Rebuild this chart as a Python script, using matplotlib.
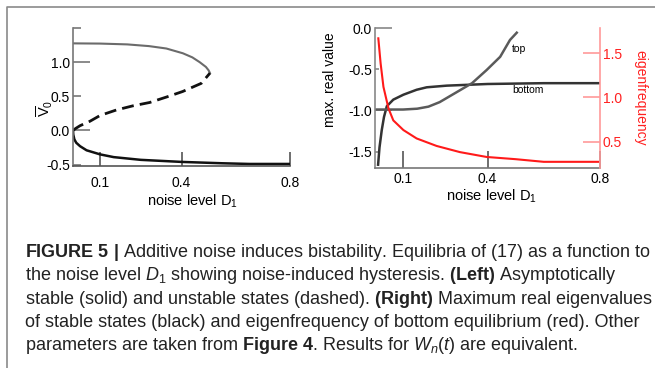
import matplotlib
matplotlib.use('Agg')
import matplotlib.pyplot as plt
from matplotlib.lines import Line2D

plt.rcParams['font.family'] = ['Liberation Sans', 'DejaVu Sans']
plt.rcParams['mathtext.fontset'] = 'custom'
plt.rcParams['mathtext.rm'] = 'Liberation Sans'
plt.rcParams['mathtext.it'] = 'Liberation Sans:italic'
plt.rcParams['mathtext.bf'] = 'Liberation Sans:bold'

# Left panel: equilibria V0 vs noise level D1
upper_D = [0.0, 0.1, 0.2, 0.28, 0.344, 0.405, 0.44, 0.467, 0.49, 0.5, 0.505]
upper_V = [1.275, 1.272, 1.26, 1.235, 1.20, 1.13, 1.07, 1.0, 0.93, 0.88, 0.84]

mid_D = [0.0, 0.01, 0.026, 0.0625, 0.1, 0.16, 0.22, 0.283, 0.345, 0.404, 0.473, 0.505]
mid_V = [0.0, 0.03, 0.07, 0.135, 0.22, 0.30, 0.36, 0.41, 0.49, 0.57, 0.69, 0.84]

low_D = [0.0, 0.001, 0.005, 0.012, 0.026, 0.05, 0.1, 0.15, 0.25, 0.4, 0.55, 0.65, 0.8]
low_V = [0.0, -0.06, -0.13, -0.18, -0.23, -0.29, -0.35, -0.39, -0.43, -0.46, -0.48, -0.49, -0.49]

# Right panel: max real eigenvalue (black) and eigenfrequency (red)
bot_D = [0.011, 0.016, 0.024, 0.032, 0.042, 0.065, 0.101, 0.148, 0.184, 0.255, 0.4, 0.6, 0.8]
bot_v = [-1.66, -1.45, -1.24, -1.08, -0.95, -0.87, -0.81, -0.75, -0.72, -0.70, -0.68, -0.67, -0.67]

top_D = [0.0, 0.05, 0.1, 0.15, 0.19, 0.23, 0.27, 0.30, 0.345, 0.397, 0.445, 0.48, 0.504]
top_v = [-0.99, -0.99, -0.99, -0.98, -0.955, -0.90, -0.82, -0.76, -0.67, -0.51, -0.35, -0.145, -0.057]

red_D = [0.0118, 0.020, 0.030, 0.048, 0.065, 0.101, 0.148, 0.219, 0.302, 0.397, 0.5, 0.6, 0.8]
red_f = [1.67, 1.386, 1.12, 0.875, 0.74, 0.63, 0.535, 0.45, 0.38, 0.325, 0.30, 0.27, 0.27]

x_ticks = [0.1, 0.4, 0.8]
x_labels = ['0.1', '0.4', '0.8']

caption = [
    r"$\mathbf{FIGURE\ 5\ |}$ Additive noise induces bistability. Equilibria of (17) as a function to",
    r"the noise level $D_1$ showing noise-induced hysteresis. $\mathbf{(Left)}$ Asymptotically",
    r"stable (solid) and unstable states (dashed). $\mathbf{(Right)}$ Maximum real eigenvalues",
    "of stable states (black) and eigenfrequency of bottom equilibrium (red). Other",
    r"parameters are taken from $\mathbf{Figure\ 4}$. Results for $W_n(t)$ are equivalent.",
]

W, H = 655, 368
fig = plt.figure(figsize=(W / 100, H / 100), dpi=100)


def box(x0, y0, x1, y1):
    return [x0 / W, 1 - y1 / H, (x1 - x0) / W, (y1 - y0) / H]


# grey frame of the figure panel
fig.add_artist(Line2D([7 / W, 7 / W, 1], [0, 1 - 7 / H, 1 - 7 / H],
                      transform=fig.transFigure, color='#8a8a8a', lw=1.2))

# ---- left panel ----
ax1 = fig.add_axes(box(73, 28, 290, 166))
ax1.plot(upper_D, upper_V, color='#6b6b6b', lw=1.5)
ax1.plot(mid_D, mid_V, color='#111111', lw=2, dashes=(4.3, 2.2))
ax1.plot(low_D, low_V, color='#111111', lw=1.8)
ax1.set_xlim(0, 0.8)
ax1.set_ylim(-0.52, 1.5)
ax1.set_xticks(x_ticks)
ax1.set_xticklabels(x_labels)
ax1.set_yticks([0.0, 1.0])
ax1.set_yticklabels(['0.0', '1.0'])
ax1.set_yticks([-0.5, 0.5, 1.5], minor=True)
ax1.set_yticklabels(['-0.5', '0.5', ''], minor=True)
ax1.tick_params(axis='y', which='major', direction='in', length=12, width=1.2,
                color='#777777', labelsize=10, pad=2)
ax1.tick_params(axis='y', which='minor', direction='in', length=6, width=1.2,
                color='#777777', labelsize=10, pad=2)
ax1.tick_params(axis='x', direction='in', length=10, width=1.2,
                color='#555555', labelsize=10, pad=7)
for s in ['top', 'right']:
    ax1.spines[s].set_visible(False)
ax1.spines['left'].set_color('#777777')
ax1.spines['bottom'].set_color('#555555')
ax1.spines['left'].set_linewidth(1.2)
ax1.spines['bottom'].set_linewidth(1.2)
ax1.set_xlabel(r'noise level D$_1$', fontsize=10.5)
ax1.xaxis.set_label_coords(0.55, -0.255)
ax1.xaxis.label.set_va('center')
ax1.set_ylabel(r'$\overline{\mathrm{V}}_0$', fontsize=10.5)
ax1.yaxis.set_label_coords(-0.13, 0.42)
ax1.yaxis.label.set_va('center')

# ---- right panel ----
ax2 = fig.add_axes(box(375, 28, 600, 168))
ax2.plot(bot_D, bot_v, color='#333333', lw=1.8)
ax2.plot(top_D, top_v, color='#5a5a5a', lw=1.8)
ax2.text(0.488, -0.255, 'top', fontsize=7.5, va='center', ha='left')
ax2.text(0.488, -0.75, 'bottom', fontsize=7.5, va='center', ha='left')
ax2.set_xlim(0, 0.8)
ax2.set_ylim(-1.70, 0.0)
ax2.set_xticks(x_ticks)
ax2.set_xticklabels(x_labels)
ax2.set_yticks([0.0, -1.0])
ax2.set_yticklabels(['0.0', '-1.0'])
ax2.set_yticks([-0.5, -1.5], minor=True)
ax2.set_yticklabels(['-0.5', '-1.5'], minor=True)
ax2.tick_params(axis='y', which='major', direction='in', length=12, width=1.2,
                color='#888888', labelsize=10, pad=2)
ax2.tick_params(axis='y', which='minor', direction='in', length=3, width=1.2,
                color='#888888', labelsize=10, pad=2)
ax2.tick_params(axis='x', direction='in', length=12, width=1.2,
                color='#555555', labelsize=10, pad=3)
for s in ['top', 'right']:
    ax2.spines[s].set_visible(False)
ax2.spines['left'].set_color('#888888')
ax2.spines['bottom'].set_color('#777777')
ax2.spines['left'].set_linewidth(1.2)
ax2.spines['bottom'].set_linewidth(1.2)
ax2.set_xlabel(r'noise level D$_1$', fontsize=10.5)
ax2.xaxis.set_label_coords(0.52, -0.2)
ax2.xaxis.label.set_va('center')
ax2.set_ylabel('max. real value', fontsize=10)
ax2.yaxis.set_label_coords(-0.2, 0.629)
ax2.yaxis.label.set_va('center')

ax3 = ax2.twinx()
ax3.plot(red_D, red_f, color='#ff1a1a', lw=1.5)
ax3.set_ylim(0.2, 1.787)
ax3.set_yticks([0.5, 1.0, 1.5])
ax3.set_yticklabels(['0.5', '1.0', '1.5'])
ax3.tick_params(axis='y', direction='in', length=12, width=1.2,
                color='#ff9a9a', labelcolor='#ff2020', labelsize=10, pad=2)
for s in ['top', 'left', 'bottom']:
    ax3.spines[s].set_visible(False)
ax3.spines['right'].set_color('#ff9a9a')
ax3.spines['right'].set_linewidth(1.2)
ax3.set_ylabel('eigenfrequency', fontsize=10, color='#ff2020', rotation=270)
ax3.yaxis.set_label_coords(1.178, 0.504)
ax3.yaxis.label.set_va('center')

# ---- caption ----
baselines = [257, 280.3, 303.7, 327, 350.3]
for line, yb in zip(caption, baselines):
    fig.text(25 / W, 1 - yb / H, line, fontsize=13, color='#222222',
             ha='left', va='baseline')

fig.savefig('out.png', dpi=100)
